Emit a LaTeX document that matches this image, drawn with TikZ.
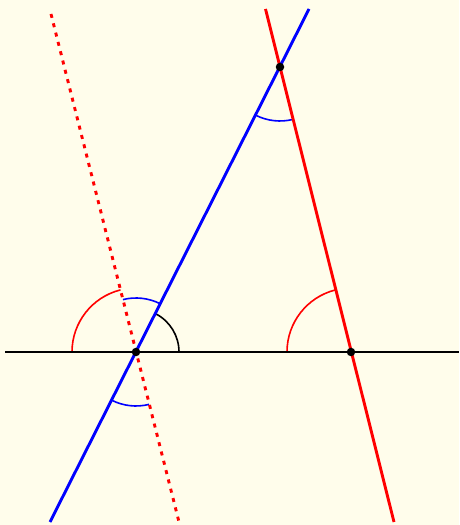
\documentclass[tikz,border=0pt]{standalone}
\definecolor{bg}{HTML}{FFFDEB}
\begin{document}
\begin{tikzpicture}[x=1pt,y=1pt,
  lin/.style={line width=2.9pt},
  arcline/.style={line width=1.6pt},
  dot/.style={circle,fill=black,inner sep=0pt,minimum size=8.5pt}]
\fill[bg] (0,0) rectangle (459,525);
\useasboundingbox (0,0) rectangle (459,525);
\coordinate (A) at (136,173);
\coordinate (B) at (351,173);
\coordinate (C) at (280,458);
\coordinate (h1) at (5,173);
\coordinate (h2) at (459,173);
\coordinate (b1) at (50,3);
\coordinate (b2) at (309,516);
\coordinate (r1) at (265.5,516);
\coordinate (r2) at (394,3);
\coordinate (d1) at (51,511);
\coordinate (d2) at (179,3);
% arcs
\draw[arcline,red] ([shift={(180:64pt)}]A) arc[start angle=180,end angle=104.01,radius=64pt];
\draw[arcline,blue] ([shift={(104.01:54pt)}]A) arc[start angle=104.01,end angle=63.19,radius=54pt];
\draw[arcline,black] ([shift={(0:43pt)}]A) arc[start angle=0,end angle=63.19,radius=43pt];
\draw[arcline,blue] ([shift={(243.19:54pt)}]A) arc[start angle=243.19,end angle=284.01,radius=54pt];
\draw[arcline,red] ([shift={(180:64pt)}]B) arc[start angle=180,end angle=104.01,radius=64pt];
\draw[arcline,blue] ([shift={(243.19:54pt)}]C) arc[start angle=243.19,end angle=284.01,radius=54pt];
% lines
\draw[lin,red,dash pattern=on 4pt off 5.6pt] (d1) -- (d2);
\draw[lin,black] (h1) -- (h2);
\draw[lin,red] (r1) -- (r2);
\draw[lin,blue] (b1) -- (b2);
\node[dot] (nA) at (A) {};
\node[dot] (nB) at (B) {};
\node[dot] (nC) at (C) {};
\end{tikzpicture}
\end{document}
